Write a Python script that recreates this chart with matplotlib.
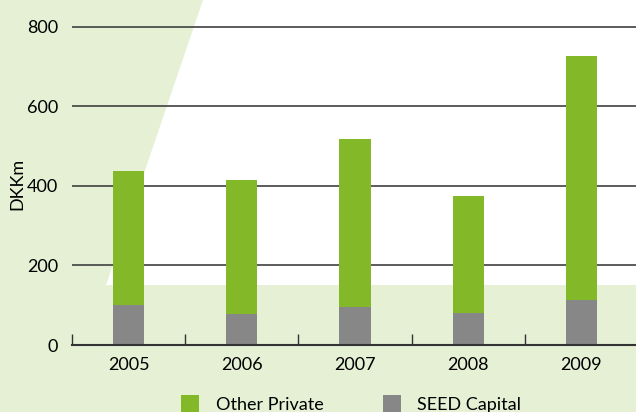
import matplotlib
matplotlib.use("Agg")
import matplotlib.pyplot as plt
from matplotlib.patches import Polygon
import numpy as np

# === Datos ===
years = ["2005", "2006", "2007", "2008", "2009"]
seed_capital = [100, 78, 95, 80, 114]
other_private = [337, 337, 422, 294, 612]
y_ticks = [0, 200, 400, 600, 800]

green = "#83B929"
grey = "#878787"
bg = "#E5F0D5"

plt.rcParams["font.family"] = ["Lato", "DejaVu Sans"]

W, H = 636, 412
fig = plt.figure(figsize=(W / 100, H / 100), dpi=100)

# === Fondo verde claro ===
shape = Polygon(
    [(0, 1), (203 / W, 1), (106 / W, 1 - 285 / H), (1, 1 - 285 / H), (1, 0), (0, 0)],
    closed=True, transform=fig.transFigure, facecolor=bg, edgecolor="none", zorder=-5,
)
fig.add_artist(shape)

# === Ejes ===
ymax = 810
px_per_unit = (345 - 26.6) / 800
ax = fig.add_axes([72 / W, 67 / H, (638 - 72) / W, ymax * px_per_unit / H])
ax.patch.set_alpha(0)

x = np.arange(len(years))
b1 = ax.bar(x, seed_capital, width=0.275, color=grey, zorder=3, label="SEED Capital")
b2 = ax.bar(x, other_private, width=0.275, bottom=seed_capital, color=green, zorder=3,
            label="Other Private")

ax.set_xlim(-0.5, 4.5)
ax.set_ylim(0, ymax)
ax.set_yticks(y_ticks)
ax.set_yticklabels([str(v) for v in y_ticks], fontsize=13)
ax.set_xticks(x)
ax.set_xticklabels(years, fontsize=13)
ax.set_xticks(np.arange(-0.5, 4.5, 1), minor=True)
ax.tick_params(axis="x", which="major", length=0, pad=9)
ax.tick_params(axis="x", which="minor", direction="in", length=8, width=1, color="#333333")
ax.tick_params(axis="y", length=0, pad=10)

ax.yaxis.grid(True, color="#404040", linewidth=1.2, zorder=1)
for s in ["top", "right", "left"]:
    ax.spines[s].set_visible(False)
ax.spines["bottom"].set_color("#333333")
ax.spines["bottom"].set_linewidth(1.5)
ax.spines["bottom"].set_zorder(4)

ax.set_ylabel("DKKm", fontsize=13)
ax.yaxis.set_label_coords(-0.083, 0.5)

# === Leyenda ===
fig.legend([b2, b1], ["Other Private", "SEED Capital"], ncol=2, loc="upper left",
           bbox_to_anchor=(176 / W, 1 - 390 / H), frameon=False, fontsize=13,
           handlelength=1.0, handleheight=1.0, columnspacing=3.3, handletextpad=0.9,
           borderaxespad=0, borderpad=0.3)

fig.savefig("out.png", dpi=100)
plt.close()
